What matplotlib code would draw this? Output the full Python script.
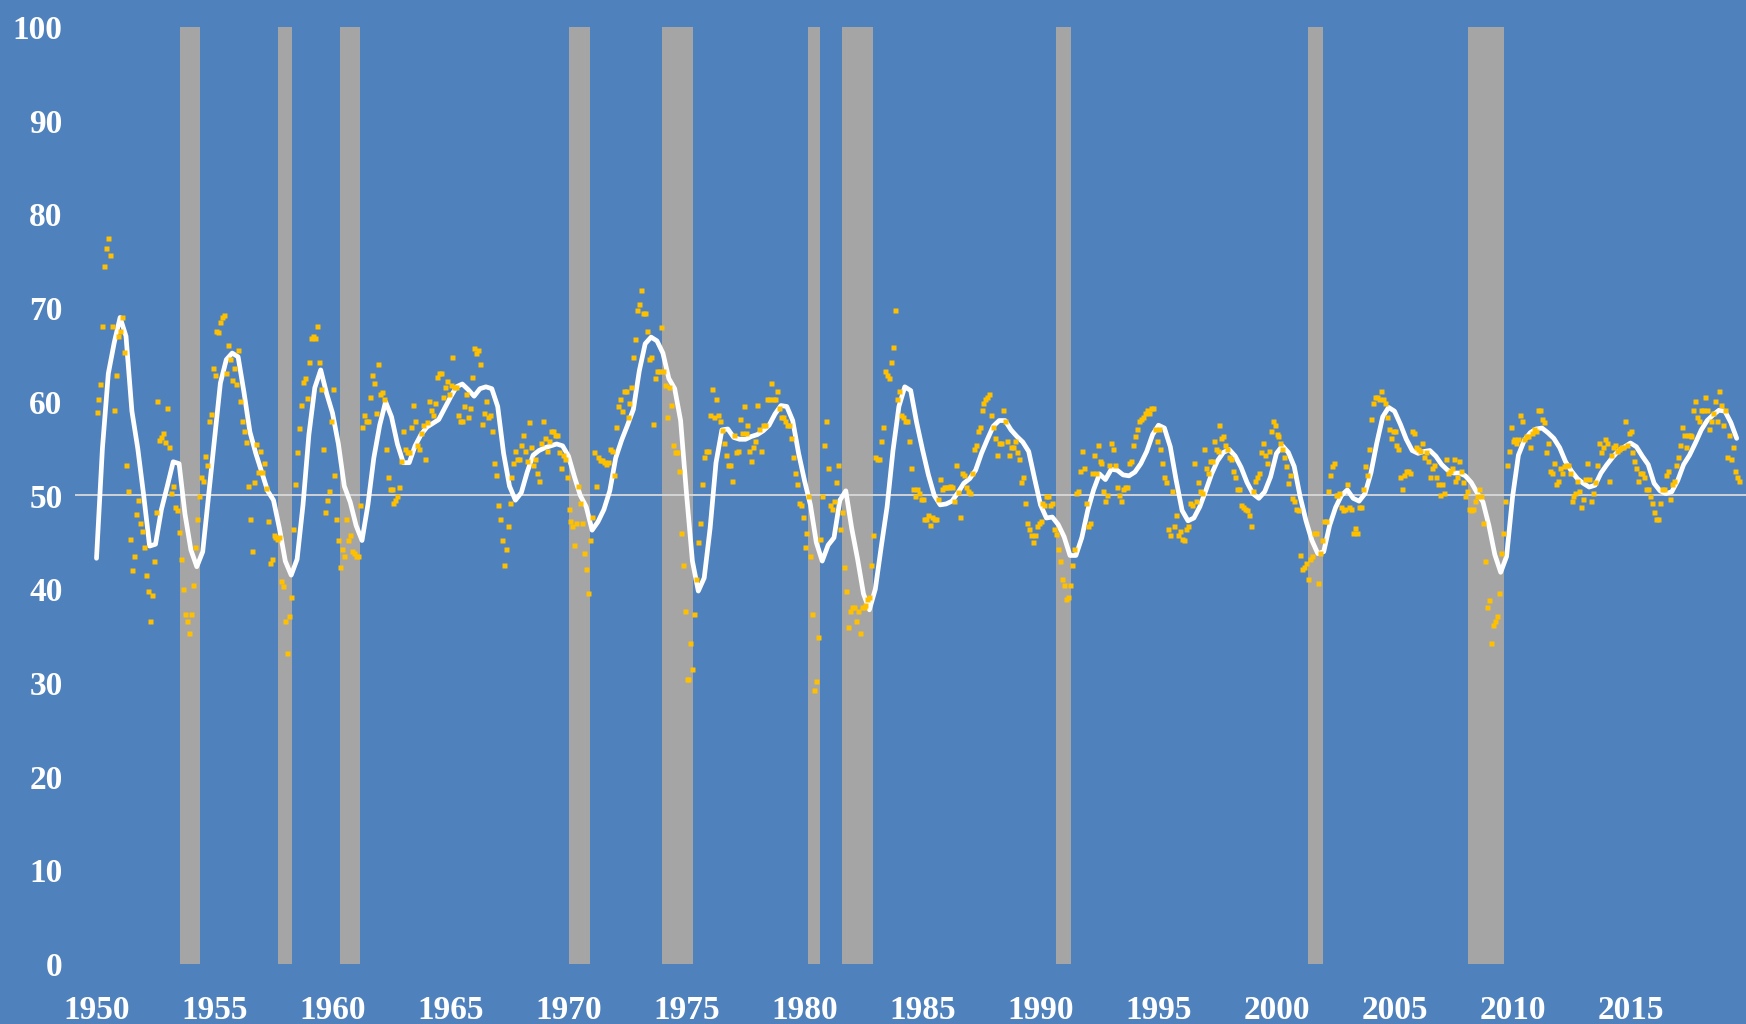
import numpy as np
import matplotlib
matplotlib.use("Agg")
import matplotlib.pyplot as plt

# monthly index readings, one row per year, Jan 1950 - Aug 2019
pmi_1950s = [
    58.9, 60.3, 61.9, 68.1, 74.5, 76.4, 77.5, 75.7, 68.1, 59.1, 62.9, 67.0,
    67.6, 69.1, 65.3, 53.3, 50.5, 45.4, 42.0, 43.5, 48.0, 49.5, 47.1, 46.2,
    44.5, 41.5, 39.8, 36.6, 39.4, 43.0, 48.2, 60.1, 55.9, 56.2, 56.7, 55.7,
    59.3, 55.2, 50.3, 51.0, 48.8, 48.4, 46.1, 43.2, 40.0, 37.3, 36.6, 35.3,
    37.3, 40.5, 44.5, 47.5, 49.9, 52.0, 51.6, 54.2, 53.3, 58.0, 58.7, 63.6,
    62.9, 67.6, 67.4, 68.5, 69.0, 69.3, 63.1, 66.1, 64.6, 62.3, 63.6, 61.9,
    65.5, 60.1, 58.0, 56.9, 55.7, 51.0, 47.5, 44.1, 51.4, 55.5, 52.5, 54.8,
    52.5, 53.5, 50.8, 47.3, 42.8, 43.2, 45.8, 45.6, 45.4, 45.6, 40.9, 40.3,
    36.6, 33.2, 37.1, 39.2, 46.4, 51.2, 54.6, 57.2, 59.7, 62.1, 62.5, 60.4,
    64.2, 66.8, 67.0, 66.8, 68.1, 64.2, 61.4, 55.0, 48.2, 49.5, 50.5, 58.0,
]
pmi_1960s = [
    61.4, 52.2, 47.5, 45.2, 42.4, 44.3, 43.5, 47.5, 45.2, 45.8, 44.1, 43.9,
    43.5, 43.5, 49.0, 57.3, 58.6, 58.0, 58.0, 60.5, 62.9, 62.0, 58.8, 64.0,
    60.8, 61.0, 60.3, 55.0, 52.0, 50.7, 50.7, 49.2, 49.5, 49.9, 50.9, 53.7,
    56.9, 55.0, 54.6, 54.6, 57.3, 59.7, 58.0, 55.4, 55.0, 56.7, 57.5, 53.9,
    57.8, 60.1, 59.1, 58.6, 59.9, 62.7, 63.1, 63.1, 60.5, 61.6, 62.2, 60.8,
    61.8, 64.8, 61.6, 61.6, 58.6, 58.0, 58.0, 59.5, 60.8, 58.4, 59.3, 62.7,
    65.7, 65.2, 65.5, 64.0, 57.6, 58.8, 60.1, 58.4, 58.6, 56.9, 53.5, 52.2,
    49.0, 47.5, 45.2, 42.6, 44.3, 46.7, 49.2, 52.0, 53.5, 54.8, 53.9, 53.9,
    55.4, 56.5, 54.8, 53.7, 57.8, 55.2, 53.3, 53.9, 52.4, 51.6, 55.6, 58.0,
    56.1, 54.8, 55.8, 56.9, 56.9, 56.5, 56.5, 54.6, 52.9, 54.3, 53.9, 52.0,
]
pmi_1970s = [
    48.6, 47.3, 46.7, 44.7, 47.1, 51.0, 49.2, 47.1, 43.9, 42.2, 39.6, 45.2,
    47.7, 54.6, 51.0, 54.1, 53.8, 53.8, 53.6, 53.4, 53.6, 55.0, 54.8, 52.2,
    57.3, 59.5, 60.3, 59.0, 61.2, 61.2, 58.4, 59.9, 61.6, 64.8, 66.7, 69.8,
    70.4, 71.9, 69.5, 69.5, 67.6, 64.6, 64.8, 57.6, 62.5, 63.3, 63.3, 68.0,
    63.3, 61.8, 58.4, 61.6, 59.7, 55.4, 54.6, 54.6, 52.6, 46.0, 42.6, 37.7,
    30.4, 30.4, 34.3, 31.5, 37.3, 41.1, 45.0, 47.1, 51.2, 54.1, 54.8, 54.8,
    58.6, 61.4, 58.4, 60.3, 58.6, 58.0, 57.0, 55.6, 54.3, 53.3, 53.3, 51.6,
    56.5, 54.6, 54.8, 58.2, 56.7, 59.5, 56.7, 57.5, 54.8, 53.7, 55.2, 55.8,
    59.7, 57.1, 54.8, 57.5, 57.5, 60.3, 60.3, 62.0, 60.3, 60.3, 61.2, 59.3,
    58.4, 58.4, 58.0, 57.5, 57.5, 56.1, 54.1, 52.4, 51.2, 49.2, 49.0, 47.7,
]
pmi_1980s = [
    44.5, 46.0, 49.9, 43.5, 37.3, 29.2, 30.2, 34.9, 45.4, 49.9, 55.4, 58.0,
    52.9, 49.0, 48.6, 49.4, 51.4, 53.3, 46.4, 48.2, 42.4, 39.8, 36.0, 37.7,
    38.1, 38.1, 36.6, 37.7, 35.3, 38.1, 38.1, 38.3, 39.0, 39.2, 42.6, 45.8,
    54.1, 53.9, 53.9, 55.8, 57.3, 63.3, 62.9, 62.5, 64.2, 65.9, 69.8, 60.3,
    61.2, 58.6, 58.4, 58.0, 58.0, 55.8, 52.9, 50.7, 49.9, 50.7, 50.3, 49.6,
    49.6, 47.5, 47.5, 47.9, 46.9, 47.7, 47.5, 47.5, 49.6, 51.8, 50.7, 50.9,
    50.9, 50.9, 51.0, 50.9, 49.4, 53.3, 50.4, 47.7, 52.4, 52.2, 50.9, 50.5,
    50.3, 52.4, 55.0, 55.4, 56.9, 57.3, 59.1, 59.9, 60.3, 60.5, 60.8, 58.6,
    57.3, 56.1, 54.3, 55.6, 55.6, 59.1, 58.0, 55.8, 54.3, 55.2, 55.2, 55.8,
    54.6, 53.9, 51.4, 52.0, 49.2, 47.1, 46.4, 45.8, 45.0, 45.8, 46.7, 47.1,
]
pmi_1990s = [
    47.3, 49.2, 49.0, 49.9, 49.9, 49.0, 49.2, 46.4, 45.9, 44.3, 43.0, 41.1,
    40.5, 39.0, 39.2, 40.5, 42.6, 44.3, 50.3, 50.5, 52.6, 54.8, 52.9, 49.2,
    46.7, 47.1, 52.4, 54.3, 52.4, 55.4, 53.7, 53.5, 50.5, 49.4, 50.1, 53.3,
    55.6, 55.0, 53.3, 50.9, 50.1, 49.4, 50.7, 50.9, 50.9, 53.5, 53.7, 55.4,
    56.3, 57.1, 58.0, 58.2, 58.4, 58.8, 59.1, 58.8, 59.3, 59.3, 57.1, 55.8,
    57.1, 55.0, 53.5, 52.0, 51.4, 46.4, 45.8, 50.5, 46.7, 47.9, 45.8, 46.2,
    45.4, 45.2, 46.4, 46.7, 49.2, 49.0, 53.5, 49.4, 51.4, 50.5, 50.3, 55.0,
    52.9, 52.4, 53.7, 53.7, 55.8, 55.0, 54.8, 57.5, 56.1, 56.3, 55.4, 55.0,
    54.1, 53.9, 52.6, 52.0, 50.7, 50.7, 49.0, 48.8, 48.6, 48.4, 47.9, 46.7,
    50.5, 51.6, 52.0, 52.4, 54.6, 55.6, 54.3, 53.5, 54.8, 56.9, 58.0, 57.5,
]
pmi_2000s = [
    56.6, 56.3, 55.6, 55.0, 54.1, 53.1, 51.3, 52.2, 49.7, 49.4, 48.6, 48.4,
    43.7, 42.2, 42.4, 42.8, 41.1, 43.2, 43.5, 46.0, 46.0, 40.7, 43.9, 45.2,
    47.3, 47.3, 50.5, 52.2, 53.1, 53.5, 50.1, 50.1, 50.3, 48.8, 48.4, 48.6,
    51.2, 48.8, 48.6, 46.0, 46.5, 46.0, 48.8, 48.8, 50.7, 53.1, 52.2, 55.0,
    58.2, 59.9, 60.5, 60.5, 60.3, 61.2, 60.3, 59.9, 58.4, 57.1, 56.1, 56.9,
    56.9, 55.4, 55.0, 52.0, 50.7, 52.2, 52.6, 52.6, 52.4, 56.9, 56.7, 55.2,
    55.0, 54.8, 55.6, 54.1, 54.6, 53.7, 52.0, 52.9, 53.3, 52.0, 51.2, 50.1,
    51.2, 50.3, 53.9, 52.4, 52.6, 52.9, 53.9, 51.6, 52.0, 53.7, 52.6, 51.4,
    49.9, 50.5, 48.6, 48.4, 48.6, 49.4, 49.9, 50.7, 49.9, 47.1, 43.0, 38.1,
    38.8, 34.3, 36.2, 36.6, 37.1, 39.6, 43.9, 46.0, 49.4, 53.3, 54.8, 57.3,
]
pmi_2010s = [
    55.8, 56.0, 55.6, 56.0, 58.6, 58.0, 56.0, 56.3, 56.3, 55.2, 56.7, 57.1,
    56.9, 59.1, 59.1, 58.2, 57.8, 54.6, 55.6, 52.6, 52.4, 53.5, 51.2, 51.6,
    52.9, 52.4, 53.1, 53.3, 53.3, 52.4, 49.4, 49.9, 50.3, 51.6, 50.5, 48.8,
    49.6, 51.8, 53.5, 51.8, 49.4, 50.3, 51.4, 53.3, 55.6, 54.6, 55.2, 56.0,
    55.6, 51.6, 54.3, 55.2, 55.4, 54.8, 55.0, 55.2, 55.2, 58.0, 55.4, 56.7,
    56.9, 54.6, 53.7, 52.9, 51.6, 52.4, 52.4, 52.0, 50.7, 50.7, 49.9, 49.2,
    48.2, 47.5, 47.5, 49.2, 50.7, 50.7, 52.2, 52.6, 49.6, 51.2, 51.6, 53.3,
    54.1, 55.4, 57.3, 56.5, 55.2, 56.5, 56.5, 56.3, 59.1, 60.1, 58.4, 58.0,
    59.1, 59.1, 60.5, 59.1, 57.1, 58.0, 58.8, 60.1, 58.0, 61.2, 59.7, 57.5,
    59.1, 54.1, 56.5, 53.9, 55.2, 52.6, 52.0, 51.6,
]

# smoothed trend, read every third month from Jan 1950
trend_1950s = [43.3, 55.0, 63.0, 66.3, 69.0, 67.0, 59.0, 55.0, 50.0, 44.6,
               44.8, 48.5, 51.0, 53.6, 53.4, 48.0, 44.2, 42.4, 44.0, 50.0,
               56.0, 62.0, 64.5, 65.2, 64.8, 61.0, 56.8, 54.5, 52.5, 50.5,
               49.5, 46.5, 43.0, 41.5, 43.2, 49.0, 56.5, 61.5, 63.4, 60.9]
trend_1960s = [58.8, 55.5, 51.0, 49.3, 46.8, 45.2, 49.0, 54.0, 57.5, 60.0,
               58.4, 55.5, 53.5, 53.5, 55.3, 56.5, 57.3, 57.7, 58.1, 59.3,
               60.5, 61.6, 61.9, 61.3, 60.6, 61.4, 61.6, 61.4, 59.5, 54.5,
               51.0, 49.5, 50.3, 52.5, 54.3, 54.8, 55.1, 55.3, 55.5, 55.3]
trend_1970s = [54.2, 52.0, 50.0, 48.8, 46.3, 47.2, 48.5, 50.5, 54.0, 55.9,
               57.5, 59.2, 63.3, 66.2, 66.9, 66.5, 65.2, 62.5, 61.4, 58.0,
               50.2, 43.0, 39.8, 41.2, 46.5, 53.5, 57.0, 57.1, 56.2, 56.0,
               56.0, 56.3, 56.5, 56.9, 57.5, 58.7, 59.6, 59.5, 58.0, 54.5]
trend_1980s = [51.6, 49.0, 45.0, 43.0, 44.7, 45.5, 49.5, 50.5, 46.5, 43.2,
               39.5, 37.8, 40.0, 44.5, 48.8, 54.8, 59.5, 61.6, 61.2, 57.8,
               54.9, 52.2, 50.0, 49.0, 49.1, 49.4, 50.3, 51.3, 51.8, 52.7,
               54.5, 56.0, 57.4, 58.0, 58.0, 57.0, 56.3, 55.7, 54.7, 51.8]
trend_1990s = [49.0, 47.6, 47.7, 46.9, 45.6, 43.6, 43.6, 45.5, 48.4, 50.6,
               52.3, 51.7, 52.8, 52.7, 52.2, 52.1, 52.5, 53.4, 54.7, 56.5,
               57.5, 57.2, 55.2, 51.6, 48.4, 47.3, 47.6, 48.8, 50.5, 52.3,
               53.7, 54.6, 54.9, 54.2, 53.0, 51.4, 50.2, 49.7, 50.4, 52.0]
trend_2000s = [54.5, 55.3, 54.6, 53.1, 49.9, 47.3, 45.2, 43.8, 44.0, 46.8,
               48.7, 50.0, 50.6, 49.7, 49.4, 50.2, 52.4, 55.6, 58.4, 59.4,
               59.0, 57.6, 56.0, 54.8, 54.5, 54.7, 54.8, 54.2, 53.3, 52.7,
               52.4, 52.4, 52.1, 51.4, 50.3, 49.3, 46.8, 43.7, 41.8, 43.5]
trend_2010s = [49.8, 54.3, 55.9, 56.7, 57.1, 57.2, 56.7, 56.1, 55.1, 53.6,
               52.6, 51.8, 51.3, 50.9, 51.1, 52.4, 53.3, 54.1, 54.8, 55.2,
               55.6, 55.2, 54.2, 53.3, 51.3, 50.5, 50.2, 50.4, 51.6, 53.3,
               54.3, 55.6, 57.0, 58.0, 58.6, 59.1, 59.0, 57.8, 56.1]

# recession shading (decimal years)
rec_start = [1953.54, 1957.70, 1960.32, 1970.00, 1973.96, 1980.16,
             1981.60, 1990.65, 2001.35, 2008.13]
rec_end = [1954.38, 1958.27, 1961.15, 1970.91, 1975.28, 1980.65,
           1982.91, 1991.31, 2001.99, 2009.62]

y_ticks = list(range(0, 101, 10))
x_ticks = list(range(1950, 2016, 5))

BG = "#4F81BD"
DOT = "#FFC000"
BAR = "#A5A5A5"

plt.rcParams["font.family"] = ["Liberation Serif", "DejaVu Serif"]

pmi = np.concatenate([pmi_1950s, pmi_1960s, pmi_1970s, pmi_1980s,
                      pmi_1990s, pmi_2000s, pmi_2010s])
months = 1950 + np.arange(len(pmi)) / 12.0
trend = np.concatenate([trend_1950s, trend_1960s, trend_1970s, trend_1980s,
                        trend_1990s, trend_2000s, trend_2010s])
trend_x = 1950 + np.arange(len(trend)) * 3 / 12.0

W, H = 1746, 1024
fig = plt.figure(figsize=(W / 100, H / 100), dpi=100, facecolor=BG)
left_px, right_px, top_px, bot_px = 75, 1746, 27, 964
ax = fig.add_axes([left_px / W, 1 - bot_px / H,
                   (right_px - left_px) / W, (bot_px - top_px) / H])
ax.set_facecolor(BG)

px_per_year = 23.6
x0 = 1950 - (96.5 - left_px) / px_per_year
x1 = 1950 + (right_px - 96.5) / px_per_year
ax.set_xlim(x0, x1)
ax.set_ylim(0, 100)

for s, e in zip(rec_start, rec_end):
    ax.axvspan(s, e, color=BAR, lw=0, zorder=1)

ax.axhline(50, color="#D9D9D9", lw=1.3, zorder=2)
ax.plot(trend_x, trend, color="white", lw=3.4, solid_joinstyle="round",
        solid_capstyle="round", zorder=3)
ax.plot(months, pmi, ls="none", marker="s", ms=3.6, mfc=DOT, mec="none",
        zorder=4)

for sp in ax.spines.values():
    sp.set_visible(False)
ax.set_yticks(y_ticks)
ax.set_xticks(x_ticks)
ax.tick_params(axis="both", length=0, colors="white", labelsize=24)
ax.tick_params(axis="y", pad=9)
ax.tick_params(axis="x", pad=22)
for lab in ax.get_xticklabels() + ax.get_yticklabels():
    lab.set_fontweight("bold")

fig.savefig("out.png", dpi=100, facecolor=BG)
